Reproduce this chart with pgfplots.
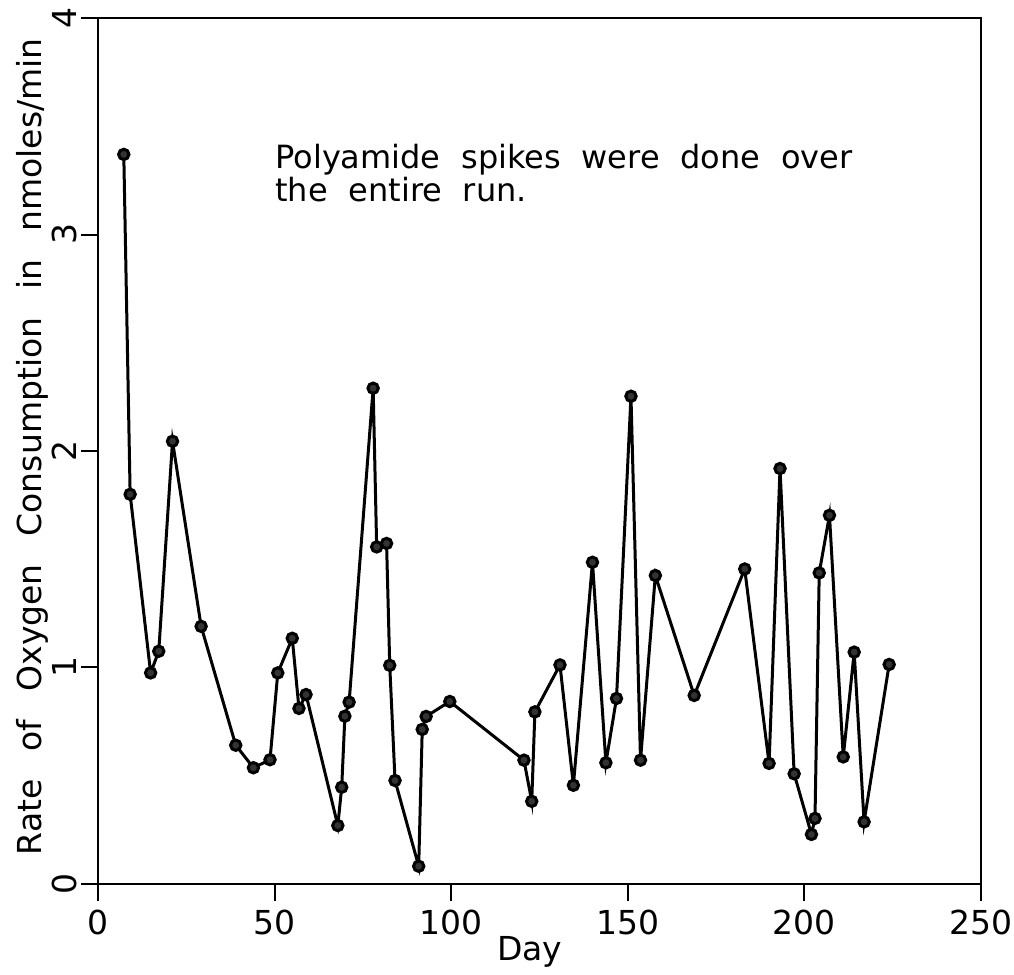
\documentclass[border=0pt]{standalone}
\usepackage{pgfplots}
\pgfplotsset{compat=1.18}
\usepackage{fontspec}
\setmainfont{DejaVu Sans}
\newcommand{\ws}{\hspace{0.65em}}
\newcommand{\wl}{\hspace{0.85em}}
\pgfplotstableread{
x y
7.3 3.37
9.1 1.80
14.9 0.975
17.2 1.075
21.1 2.045
29.2 1.19
39.0 0.641
44.0 0.537
48.7 0.574
50.9 0.975
55.0 1.135
56.9 0.811
58.9 0.875
67.9 0.27
69.0 0.447
69.9 0.775
71.1 0.84
77.9 2.29
78.9 1.557
81.7 1.573
82.6 1.01
84.1 0.478
90.8 0.082
91.8 0.714
92.9 0.774
99.6 0.843
120.6 0.572
122.8 0.382
123.7 0.795
130.8 1.012
134.6 0.456
140.0 1.486
143.8 0.56
146.8 0.857
150.9 2.253
153.6 0.572
157.8 1.425
168.8 0.871
183.1 1.455
190.0 0.557
193.1 1.919
197.1 0.509
202.0 0.229
203.0 0.303
204.2 1.437
207.1 1.703
211.0 0.587
214.1 1.071
216.9 0.287
224.0 1.014
}\datatable
\begin{document}
\begin{tikzpicture}
\path[use as bounding box] (-49pt,-45.5pt) rectangle (458pt,442pt);
\begin{axis}[
  at={(0pt,0pt)}, anchor=south west,
  scale only axis,
  width=441.5pt, height=433pt,
  xmin=0, xmax=250, ymin=0, ymax=4,
  xtick={0,50,100,150,200,250},
  ytick={0,1,2,3,4},
  xtick pos=left, ytick pos=left,
  xtick align=outside, ytick align=outside,
  tickwidth=8.5pt,
  major tick style={black, line width=1pt},
  axis line style={line width=1pt},
  xticklabel shift=2.5pt, yticklabel shift=0pt,
  /pgf/number format/assume math mode=true,
  ticklabel style={font=\fontsize{16.5}{19}\selectfont},
  yticklabel style={rotate=90, anchor=south, inner sep=2pt},
  xticklabel style={anchor=north, inner sep=2pt},
  xlabel={Day},
  ylabel={Rate\wl of\wl Oxygen\wl Consumption\wl in\wl nmoles/min},
  label style={font=\fontsize{16.5}{19}\selectfont},
  xlabel style={at={(axis description cs:0.489,-0.0785)}, anchor=center},
  ylabel style={at={(axis description cs:-0.074,0.505)}, anchor=center},
  clip=false,
]
\addplot[black, line width=1.5pt, mark=*, mark size=2.6pt,
  mark options={fill=black!80, draw=black}] table[x=x,y=y] {\datatable};
\node[anchor=north west, align=left, inner sep=0pt,
  font=\fontsize{16}{15}\selectfont]
  at (axis cs:50.1,3.42) {Polyamide\ws spikes\ws were\ws done\ws over\\the\ws entire\ws run.};
\end{axis}
\end{tikzpicture}
\end{document}
